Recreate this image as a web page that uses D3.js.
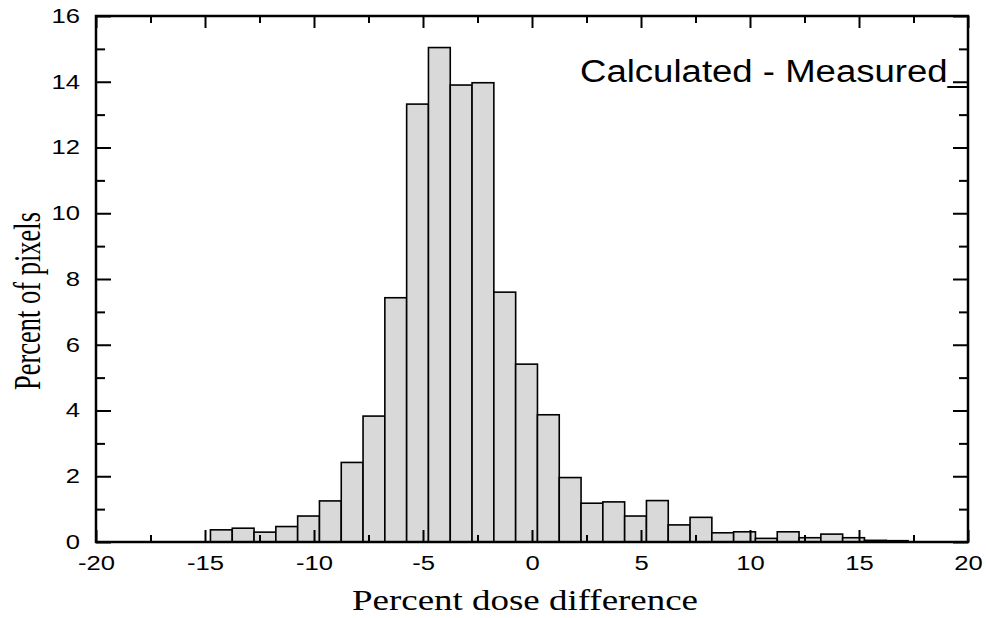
<!DOCTYPE html>
<html lang="en">
<head>
<meta charset="utf-8">
<title>Percent dose difference histogram</title>
<script type="text/javascript" src="https://cdn.jsdelivr.net/npm/d3@7/dist/d3.min.js"></script>
<style>
  body { margin: 0; background: #fff; }
  .tick line { stroke: #000; stroke-width: 2; }
  .axis text { font-family: "Liberation Sans", Arial, sans-serif; font-size: 20px; fill: #000; }
</style>
</head>
<body>
<script type="text/javascript">
// lower bin edges (percent dose difference), bin width 1
let binLeft = [-14.75, -13.75, -12.75, -11.75, -10.75, -9.75, -8.75, -7.75,
  -6.75, -5.75, -4.75, -3.75, -2.75, -1.75, -0.75, 0.25, 1.25, 2.25, 3.25,
  4.25, 5.25, 6.25, 7.25, 8.25, 9.25, 10.25, 11.25, 12.25, 13.25, 14.25,
  15.25, 16.25];
let binWidth = 1;
// percent of pixels in each bin
let percentPixels = [0.37, 0.42, 0.30, 0.47, 0.79, 1.25, 2.42, 3.83,
  7.43, 13.32, 15.04, 13.90, 13.97, 7.60, 5.41, 3.87, 1.96, 1.18, 1.22,
  0.79, 1.26, 0.52, 0.75, 0.28, 0.31, 0.11, 0.31, 0.13, 0.24, 0.13,
  0.05, 0.04];

let xMajor = [-20, -15, -10, -5, 0, 5, 10, 15, 20];
let xMinor = [-17.5, -12.5, -7.5, -2.5, 2.5, 7.5, 12.5, 17.5];
let yMajor = [0, 2, 4, 6, 8, 10, 12, 14, 16];
let yMinor = [1, 3, 5, 7, 9, 11, 13, 15];

function drawHist() {
  let w = 986;
  let h = 618;
  let left = 96, right = 968, top = 16, bottom = 542;
  let stretch = 1.28; // the original glyphs look widened

  let xScale = d3.scaleLinear().domain([-20, 20]).range([left, right]);
  let yScale = d3.scaleLinear().domain([0, 16]).range([bottom, top]);

  let svg = d3.select("body").append("svg")
    .attr("width", w)
    .attr("height", h);

  let dataset = binLeft.map((b, i) => [b, percentPixels[i]]);

  svg.selectAll("rect.bar")
    .data(dataset)
    .enter()
    .append("rect")
    .attr("class", "bar")
    .attr("x", (d) => xScale(d[0]))
    .attr("width", (d) => xScale(d[0] + binWidth) - xScale(d[0]))
    .attr("y", (d) => yScale(d[1]))
    .attr("height", (d) => yScale(0) - yScale(d[1]))
    .attr("fill", "#d9d9d9")
    .attr("stroke", "#000")
    .attr("stroke-width", 1.6);

  function addAxis(axis, tx, ty) {
    let g = svg.append("g")
      .attr("class", "axis")
      .attr("transform", "translate(" + tx + "," + ty + ")")
      .call(axis);
    g.select(".domain").remove();
    return g;
  }

  let plain = (d) => String(d); // plain hyphen minus, like the original

  // bottom
  let xb = addAxis(d3.axisBottom(xScale).tickValues(xMajor).tickSize(-12).tickPadding(14).tickFormat(plain), 0, bottom);
  addAxis(d3.axisBottom(xScale).tickValues(xMinor).tickSize(-7).tickFormat(""), 0, bottom);
  // top
  addAxis(d3.axisTop(xScale).tickValues(xMajor).tickSize(-12).tickFormat(""), 0, top);
  addAxis(d3.axisTop(xScale).tickValues(xMinor).tickSize(-7).tickFormat(""), 0, top);
  // left
  let yl = addAxis(d3.axisLeft(yScale).tickValues(yMajor).tickSize(-15).tickPadding(16).tickFormat(plain), left, 0);
  addAxis(d3.axisLeft(yScale).tickValues(yMinor).tickSize(-9).tickFormat(""), left, 0);
  // right
  addAxis(d3.axisRight(yScale).tickValues(yMajor).tickSize(-15).tickFormat(""), right, 0);
  addAxis(d3.axisRight(yScale).tickValues(yMinor).tickSize(-9).tickFormat(""), right, 0);

  [xb, yl].forEach(function(g) {
    g.selectAll("text").each(function() {
      let len = this.getComputedTextLength();
      d3.select(this)
        .attr("textLength", len * stretch)
        .attr("lengthAdjust", "spacingAndGlyphs");
    });
  });

  // frame
  svg.append("rect")
    .attr("x", left)
    .attr("y", top)
    .attr("width", right - left)
    .attr("height", bottom - top)
    .attr("fill", "none")
    .attr("stroke", "#000")
    .attr("stroke-width", 2.5);

  // legend text
  let leg = svg.append("text")
    .attr("x", 580)
    .attr("y", 82)
    .style("font-family", "'Liberation Sans', Arial, sans-serif")
    .style("font-size", "31px")
    .text("Calculated - Measured_");
  leg.attr("textLength", 388)
    .attr("lengthAdjust", "spacingAndGlyphs");

  // x title
  let xt = svg.append("text")
    .attr("x", 525)
    .attr("y", 610)
    .attr("text-anchor", "middle")
    .style("font-family", "'Liberation Serif', 'Times New Roman', serif")
    .style("font-size", "30px")
    .text("Percent dose difference");
  xt.attr("textLength", 346)
    .attr("lengthAdjust", "spacingAndGlyphs");

  // y title
  svg.append("text")
    .attr("transform", "translate(40,301) scale(1.4,1) rotate(-90)")
    .attr("text-anchor", "middle")
    .attr("textLength", 178)
    .attr("lengthAdjust", "spacingAndGlyphs")
    .style("font-family", "'Liberation Serif', 'Times New Roman', serif")
    .style("font-size", "27px")
    .text("Percent of pixels");
}

drawHist();
</script>
</body>
</html>
